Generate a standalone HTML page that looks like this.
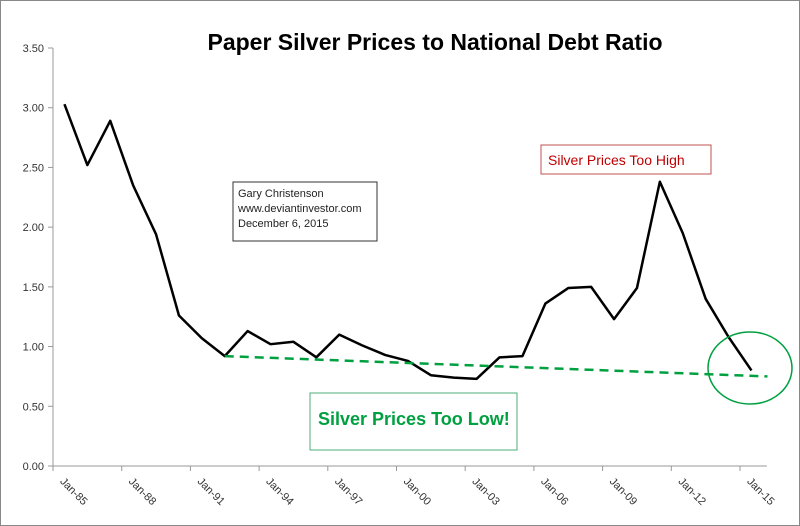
<!DOCTYPE html>
<html><head><meta charset="utf-8"><style>
body{margin:0;background:#fff}
svg{display:block;font-family:"Liberation Sans",sans-serif}
</style></head><body>
<svg width="800" height="526" viewBox="0 0 800 526">
<rect x="0.5" y="0.5" width="799" height="525" fill="#fff" stroke="#888"/>
<text x="435" y="50" font-size="23" font-weight="bold" text-anchor="middle" fill="#000">Paper Silver Prices to National Debt Ratio</text>
<g id="axes"></g>
<g id="marks"></g>
<rect x="233" y="182" width="144" height="59" fill="#fff" stroke="#333"/>
<text font-size="11" fill="#222"><tspan x="238" y="197">Gary Christenson</tspan><tspan x="238" y="212">www.deviantinvestor.com</tspan><tspan x="238" y="227">December 6, 2015</tspan></text>
<rect x="541" y="145" width="170" height="29" fill="#fff" stroke="#c0504d"/>
<text x="548" y="165" font-size="14" fill="#c00000">Silver Prices Too High</text>
<rect x="310" y="393" width="207" height="57" fill="#fff" stroke="#4caf7a"/>
<text x="318" y="425" font-size="18" font-weight="bold" fill="#00a040">Silver Prices Too Low!</text>
<ellipse cx="750" cy="368" rx="42" ry="36" fill="none" stroke="#00a040" stroke-width="1.5"/>
</svg>
<script>
const years=[1985,1986,1987,1988,1989,1990,1991,1992,1993,1994,1995,1996,1997,1998,1999,2000,2001,2002,2003,2004,2005,2006,2007,2008,2009,2010,2011,2012,2013,2014,2015];
const ratio=[3.03,2.52,2.89,2.35,1.94,1.26,1.07,0.92,1.13,1.02,1.04,0.91,1.10,1.01,0.93,0.88,0.76,0.74,0.73,0.91,0.92,1.36,1.49,1.50,1.23,1.49,2.38,1.95,1.40,1.08,0.80];
const trendYears=[1992,2015.7];
const trendValues=[0.92,0.75];
const yTicks=[0,0.5,1,1.5,2,2.5,3,3.5];
const xTickLabels=["Jan-85","Jan-88","Jan-91","Jan-94","Jan-97","Jan-00","Jan-03","Jan-06","Jan-09","Jan-12","Jan-15"];
const xTickYears=[1985,1988,1991,1994,1997,2000,2003,2006,2009,2012,2015];
const NS="http://www.w3.org/2000/svg";
const x0=53,step=22.9,yb=466,yt=48;
const X=yr=>x0+step/2+(yr-1985)*step;
const Y=v=>yb-(v/3.5)*(yb-yt);
function mk(tag,attrs,parent){const e=document.createElementNS(NS,tag);for(const k in attrs)e.setAttribute(k,attrs[k]);parent.appendChild(e);return e;}
const ax=document.getElementById('axes'),mg=document.getElementById('marks');
let e=mk('line',{x1:x0,y1:yt,x2:x0,y2:yb,stroke:'#999'},ax);


e=mk('line',{x1:x0,y1:yb,x2:X(2015.5)+4,y2:yb,stroke:'#999'},ax);


yTicks.forEach(v=>{
 const t=mk('line',{x1:x0-5,y1:Y(v),x2:x0,y2:Y(v),stroke:'#999'},ax);
 
 
 const l=mk('text',{x:x0-9,y:Y(v)+4,'font-size':11,'text-anchor':'end',fill:'#333'},ax);
 l.textContent=v.toFixed(2);
 
 
});
xTickYears.forEach((yr,i)=>{
 const tx=x0+(yr-1985)*step;
 const t=mk('line',{x1:tx,y1:yb,x2:tx,y2:yb+5,stroke:'#999'},ax);
 
 
 const cx=X(yr);
 const l=mk('text',{x:cx-5,y:yb+16,'font-size':11,fill:'#333',transform:`rotate(45 ${cx-5} ${yb+16})`},ax);
 l.textContent=xTickLabels[i];
 
 
});
e=mk('polyline',{points:years.map((y,i)=>X(y)+','+Y(ratio[i])).join(' '),fill:'none',stroke:'#000','stroke-width':2.5,'stroke-linejoin':'round'},mg);


e=mk('line',{x1:X(trendYears[0]),y1:Y(trendValues[0]),x2:X(trendYears[1]),y2:Y(trendValues[1]),stroke:'#00a040','stroke-width':2.5,'stroke-dasharray':'9 6'},mg);


</script>
</body></html>
